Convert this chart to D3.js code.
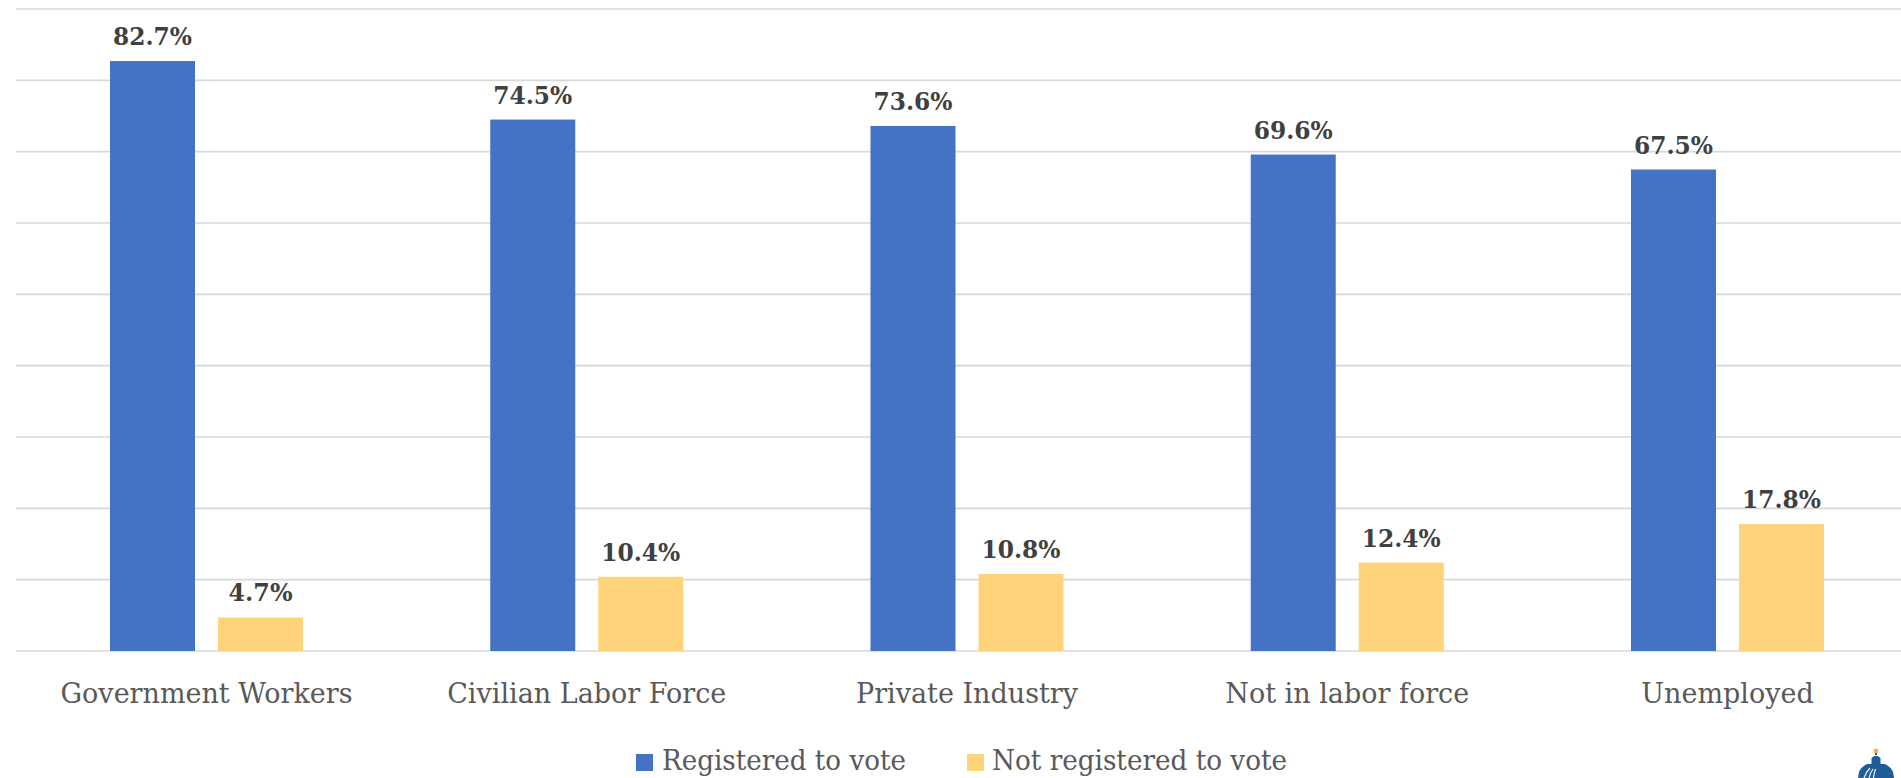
<!DOCTYPE html>
<html>
<head>
<meta charset="utf-8">
<script src="https://cdn.jsdelivr.net/npm/d3@7"></script>
<style>
  html, body { margin: 0; padding: 0; background: #ffffff; }
  svg { display: block; }
</style>
</head>
<body>
<svg id="chart" width="1901" height="778"></svg>
<script>
// Voter registration by employment status
const categories = ["Government Workers", "Civilian Labor Force", "Private Industry", "Not in labor force", "Unemployed"];
const seriesNames = ["Registered to vote", "Not registered to vote"];
const registered = [82.7, 74.5, 73.6, 69.6, 67.5];
const notRegistered = [4.7, 10.4, 10.8, 12.4, 17.8];
const gridTicks = [0, 10, 20, 30, 40, 50, 60, 70, 80, 90];
const colors = ["#4472c4", "#ffd37a"];

const svg = d3.select("#chart");
const W = 1901, H = 778;

const plotLeft = 16.4, plotRight = 1917.6, plotTop = 9, plotBottom = 651;

const x0 = d3.scaleBand()
  .domain(categories)
  .range([plotLeft, plotRight])
  .paddingInner(0.4924)
  .paddingOuter(0.2462);

const x1 = d3.scaleBand()
  .domain(seriesNames)
  .range([0, x0.bandwidth()])
  .paddingInner(0.213)
  .paddingOuter(0);

const y = d3.scaleLinear().domain([0, 90]).range([plotBottom, plotTop]);

// horizontal gridlines
svg.append("g")
  .selectAll("line")
  .data(gridTicks)
  .join("line")
  .attr("x1", 16)
  .attr("x2", W)
  .attr("y1", d => y(d))
  .attr("y2", d => y(d))
  .attr("stroke", "#d9d9d9")
  .attr("stroke-width", 1.6);

const rows = categories.map((c, i) => ({
  category: c,
  values: [
    { series: seriesNames[0], value: registered[i], color: colors[0] },
    { series: seriesNames[1], value: notRegistered[i], color: colors[1] }
  ]
}));

const groups = svg.append("g")
  .selectAll("g")
  .data(rows)
  .join("g")
  .attr("transform", d => `translate(${x0(d.category)},0)`);

groups.selectAll("rect")
  .data(d => d.values)
  .join("rect")
  .attr("x", d => x1(d.series))
  .attr("width", x1.bandwidth())
  .attr("y", d => y(d.value))
  .attr("height", d => y(0) - y(d.value))
  .attr("fill", d => d.color);

groups.selectAll("text.val")
  .data(d => d.values)
  .join("text")
  .attr("class", "val")
  .attr("x", d => x1(d.series) + x1.bandwidth() / 2)
  .attr("y", d => y(d.value) - 16)
  .attr("text-anchor", "middle")
  .attr("font-family", "'DejaVu Serif', serif")
  .attr("font-weight", "bold")
  .attr("font-size", 24)
  .attr("fill", "#404040")
  .attr("textLength", d => d.value < 10 ? 64 : 79)
  .attr("lengthAdjust", "spacingAndGlyphs")
  .text(d => d.value.toFixed(1) + "%");

// category axis
const xAxis = svg.append("g")
  .attr("transform", `translate(0,${plotBottom})`)
  .call(d3.axisBottom(x0).tickSize(0).tickPadding(0));
xAxis.select(".domain").remove();
xAxis.selectAll("text")
  .attr("y", 52)
  .attr("dy", 0)
  .attr("font-family", "'DejaVu Serif', serif")
  .attr("font-size", 27)
  .attr("fill", "#595959");

// legend
const legendItems = [
  { name: seriesNames[0], color: colors[0], sx: 636, tx: 662, len: 244 },
  { name: seriesNames[1], color: colors[1], sx: 967, tx: 992, len: 295 }
];
const legend = svg.append("g");
legend.selectAll("rect")
  .data(legendItems)
  .join("rect")
  .attr("x", d => d.sx)
  .attr("y", 754)
  .attr("width", 17)
  .attr("height", 17)
  .attr("fill", d => d.color);
legend.selectAll("text")
  .data(legendItems)
  .join("text")
  .attr("x", d => d.tx)
  .attr("y", 770)
  .attr("font-family", "'DejaVu Serif', serif")
  .attr("font-size", 28)
  .attr("fill", "#595959")
  .attr("textLength", d => d.len)
  .attr("lengthAdjust", "spacingAndGlyphs")
  .text(d => d.name);

// small dome emblem in the lower right corner
const emblem = svg.append("g").attr("transform", "translate(1876,0)");
const navy = "#1f5c99";
emblem.append("circle").attr("cx", 0).attr("cy", 751).attr("r", 2.4).attr("fill", "#f2b441");
emblem.append("path")
  .attr("d", "M-1,753 L1,753 L1,755 L-1,755 Z")
  .attr("fill", navy);
emblem.append("path")
  .attr("d", "M-4.5,758 Q0,753.5 4.5,758 L4.5,764 L-4.5,764 Z")
  .attr("fill", navy);
emblem.append("path")
  .attr("d", "M-9,764 L9,764 Q15,767 17,772 L18,778 L-18,778 L-17,772 Q-15,767 -9,764 Z")
  .attr("fill", navy);
emblem.append("path")
  .attr("d", "M-12,778 Q-10,772 -6,768 M-7,778 Q-6,773 -3,769 M-2.5,778 Q-2,773 -0.5,769")
  .attr("stroke", "#ffffff")
  .attr("stroke-width", 1.1)
  .attr("fill", "none");
</script>
</body>
</html>
